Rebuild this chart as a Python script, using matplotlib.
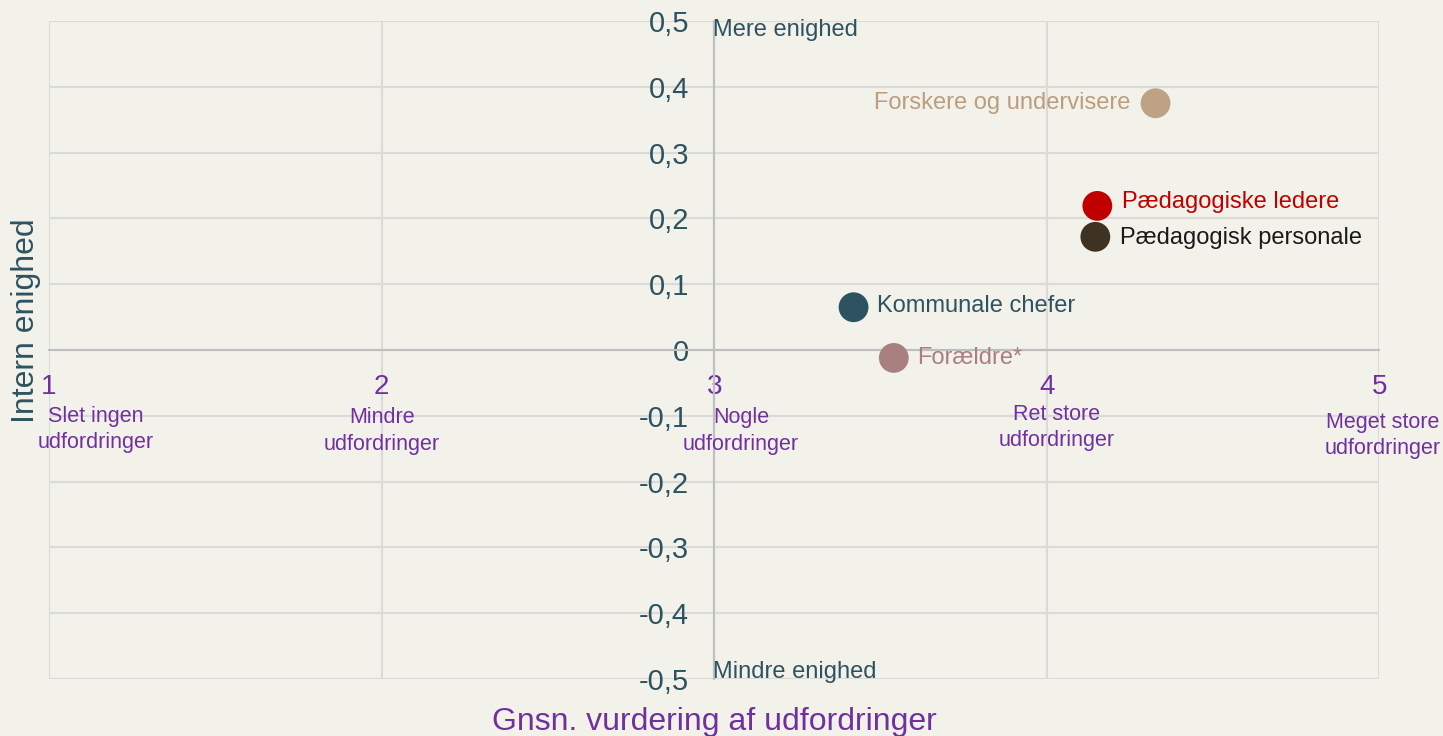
import matplotlib.pyplot as plt

plt.rcParams['font.family'] = ['Liberation Sans', 'DejaVu Sans']

grupper = ['Forskere og undervisere', 'Pædagogiske ledere', 'Pædagogisk personale',
           'Kommunale chefer', 'Forældre*']
udfordringer = [4.327, 4.152, 4.146, 3.419, 3.54]
enighed = [0.375, 0.219, 0.172, 0.065, -0.012]
farver = ['#BDA283', '#C00000', '#3E3323', '#2E5360', '#AA7F80']
tekstfarver = ['#BB9E7E', '#C00000', '#1A1A1A', '#2E5360', '#AA7F80']

x_ticks = [1, 2, 3, 4, 5]
x_sub = ['Slet ingen\nudfordringer', 'Mindre\nudfordringer', 'Nogle\nudfordringer',
         'Ret store\nudfordringer', 'Meget store\nudfordringer']
y_ticks = [-0.5, -0.4, -0.3, -0.2, -0.1, 0, 0.1, 0.2, 0.3, 0.4, 0.5]

bg = '#F2F1EA'
teal = '#2E5360'
lilla = '#7030A0'

fig = plt.figure(figsize=(14.43, 7.36), dpi=100, facecolor=bg)
ax = fig.add_axes([0.034, 0.0774, 0.9219, 0.8941], facecolor=bg)

ax.set_xlim(1, 5)
ax.set_ylim(-0.5, 0.5)

# akser gennem (3, 0)
for s in ['top', 'right']:
    ax.spines[s].set_visible(False)
ax.spines['left'].set_position(('data', 3))
ax.spines['bottom'].set_position(('data', 0))
ax.spines['left'].set_color('#BFBFBF')
ax.spines['bottom'].set_color('#BFBFBF')
ax.spines['left'].set_linewidth(1.5)
ax.spines['bottom'].set_linewidth(1.5)

ax.set_xticks(x_ticks)
ax.set_xticklabels([str(v) for v in x_ticks])
ax.set_yticks(y_ticks)
ax.set_yticklabels(['0' if v == 0 else ('%.1f' % v).replace('.', ',') for v in y_ticks])
ax.tick_params(axis='x', length=0, pad=17, labelsize=20, labelcolor=lilla)
ax.tick_params(axis='y', length=0, pad=18, labelsize=21, labelcolor=teal)

ax.grid(True, color='#DADADA', linewidth=1.5, zorder=0)
ax.set_axisbelow(True)

ax.scatter(udfordringer, enighed, s=460, c=farver, zorder=3, linewidths=0)

offsets = [(-18, 0), (18, 3), (18, -1), (17, 1), (17, 0)]
for i, g in enumerate(grupper):
    ha = 'right' if offsets[i][0] < 0 else 'left'
    ax.annotate(g, (udfordringer[i], enighed[i]), xytext=offsets[i],
                textcoords='offset points', ha=ha, va='center',
                fontsize=17, color=tekstfarver[i])

sub_x = [1.14, 2.0, 3.08, 4.03, 5.01]
sub_y = [-0.121, -0.123, -0.123, -0.118, -0.13]
for i, t in enumerate(x_sub):
    ax.text(sub_x[i], sub_y[i], t, ha='center', va='center', fontsize=15.5,
            color=lilla, linespacing=1.35)

ax.text(2.995, 0.486, 'Mere enighed', ha='left', va='center', fontsize=17, color=teal)
ax.text(2.995, -0.489, 'Mindre enighed', ha='left', va='center', fontsize=17, color=teal)

ax.set_xlabel('Gnsn. vurdering af udfordringer', fontsize=23, color=lilla)
ax.xaxis.set_label_coords(0.5, -0.043)
ax.set_ylabel('Intern enighed', fontsize=23, color=teal)
ax.yaxis.set_label_coords(-0.006, 0.545)

fig.savefig('out.png', dpi=100, facecolor=bg)
